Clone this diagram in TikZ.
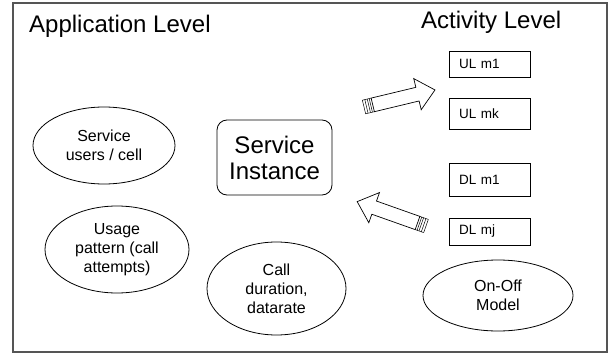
\documentclass[tikz,border=0pt]{standalone}
\usepackage{xcolor}
\usepackage{fontspec}
\setmainfont{Liberation Sans}
\usepackage{tikz}
\usetikzlibrary{shapes,arrows,positioning,calc,shapes.geometric}
\definecolor{framegray}{HTML}{555555}

\tikzset{
    levelhead/.style={anchor=base west, inner sep=0pt, font=\fontsize{24}{28}\selectfont},
    usecase/.style={draw, ellipse, line width=0.8pt, inner sep=0pt, align=center,
                    font=\fontsize{16}{19}\selectfont},
    msgbox/.style={draw, line width=0.8pt, inner xsep=10pt, inner ysep=0pt, text width=61pt,
                   align=left, font=\fontsize{13.5}{16}\selectfont},
    stripedarrow/.pic={
        \draw[line width=0.7pt, fill=white] (9,-7) -- (55,-7) -- (55,-16) -- (73,0) -- (55,16) -- (55,7) -- (9,7) -- cycle;
        \draw[line width=0.5pt] (0,-7) -- (9,-7) (0,7) -- (9,7);
        \foreach \s in {0,2.5,5,7} \draw[line width=0.5pt] (\s,-7) -- (\s,7);
    }
}

\begin{document}
\begin{tikzpicture}[x=1pt, y=1pt]
        \useasboundingbox (0,0) rectangle (609,354);
        \draw[framegray, line width=1.2pt] (13,2) rectangle (607,351);

        \node[levelhead] (applevel) at (29,321) {Application Level};
        \node[levelhead] (actlevel) at (421,325) {Activity Level};

        \node[draw, line width=0.8pt, rounded corners=10pt, minimum width=115pt, minimum height=75pt,
              align=center, font=\fontsize{24}{26}\selectfont] (instance) at (274.5,196.5) {Service\\Instance};

        \node[usecase, minimum width=142pt, minimum height=77pt] (users) at (104,208.5) {Service\\users / cell};
        \node[usecase, minimum width=144pt, minimum height=87pt] (usage) at (117,104.5) {Usage\\pattern (call\\attempts)};
        \node[usecase, minimum width=139pt, minimum height=93pt] (duration) at (276.5,65.5) {Call\\duration,\\datarate};
        \node[usecase, minimum width=150pt, minimum height=71pt] (onoff) at (498,58.5) {On-Off\\Model};

        \node[msgbox, minimum height=26pt] (ulm1) at (489.5,290) {UL m1};
        \node[msgbox, minimum height=31pt] (ulmk) at (489.5,240.5) {UL mk};
        \node[msgbox, minimum height=33pt] (dlm1) at (489.5,174.5) {DL m1};
        \node[msgbox, minimum height=27pt] (dlmj) at (489.5,122.5) {DL mj};

        \pic[rotate=13.5] (uplink) at (364,247) {stripedarrow};
        \pic[rotate=160.5] (downlink) at (426,128) {stripedarrow};
    \end{tikzpicture}
\end{document}
